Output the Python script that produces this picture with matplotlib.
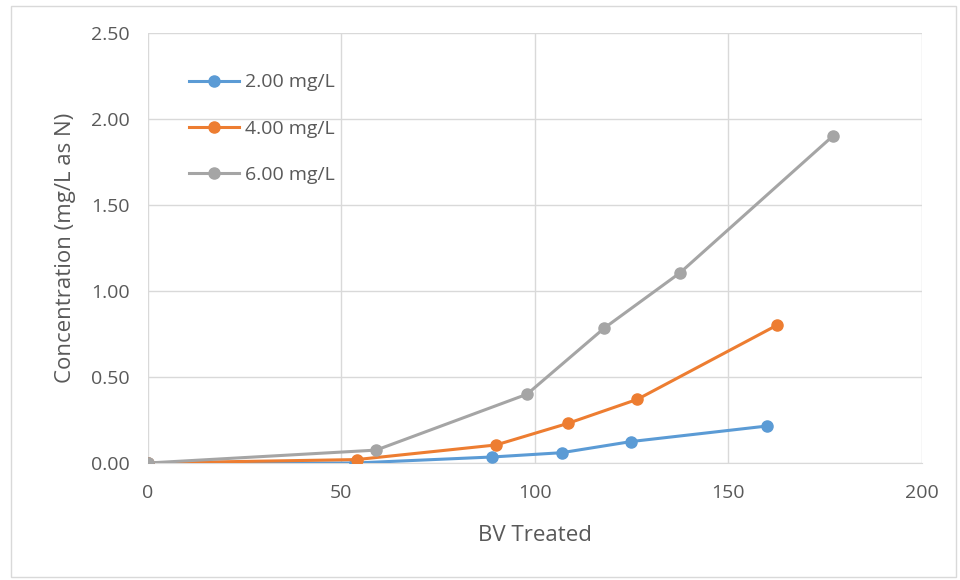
import matplotlib
matplotlib.use("Agg")
import matplotlib.pyplot as plt

plt.rcParams['font.family'] = ['Open Sans', 'DejaVu Sans']

# data
bv_2 = [0, 53.5, 89, 107, 125, 160]
conc_2 = [0.0, 0.0, 0.035, 0.06, 0.125, 0.215]

bv_4 = [0, 54, 90, 108.5, 126.5, 162.5]
conc_4 = [0.0, 0.02, 0.105, 0.23, 0.37, 0.80]

bv_6 = [0, 59, 98, 118, 137.5, 177]
conc_6 = [0.0, 0.075, 0.40, 0.785, 1.105, 1.90]

labels = ['2.00 mg/L', '4.00 mg/L', '6.00 mg/L']
colors = ['#5B9BD5', '#ED7D31', '#A5A5A5']

fig = plt.figure(figsize=(9.6, 5.8), dpi=100)
ax = fig.add_axes([0.154, 0.2017, 0.806, 0.7413])

for xs, ys, lab, c in zip([bv_2, bv_4, bv_6], [conc_2, conc_4, conc_6], labels, colors):
    ax.plot(xs, ys, color=c, lw=2.2, marker='o', ms=8, label=lab, zorder=3)

ax.set_xlim(0, 200)
ax.set_ylim(0, 2.5)
ax.set_xticks([0, 50, 100, 150, 200])
ax.set_yticks([0, 0.5, 1.0, 1.5, 2.0, 2.5])
ax.set_yticklabels(['0.00', '0.50', '1.00', '1.50', '2.00', '2.50'])
ax.grid(True, color='#D9D9D9', lw=1)
ax.set_axisbelow(True)
for s in ['top', 'right', 'left']:
    ax.spines[s].set_visible(False)
ax.spines['bottom'].set_color('#D9D9D9')
ax.tick_params(length=0, labelsize=14, colors='#595959')
ax.tick_params(axis='x', pad=15)
ax.tick_params(axis='y', pad=13)

ax.set_xlabel('BV Treated', fontsize=16, color='#595959', labelpad=17)
ax.set_ylabel('Concentration (mg/L as N)', fontsize=16, color='#595959', labelpad=11)

leg = ax.legend(loc='upper left', bbox_to_anchor=(0.03, 0.947), frameon=False,
                fontsize=14, labelspacing=1.45, handlelength=2.6, handletextpad=0.3)
for t in leg.get_texts():
    t.set_color('#595959')

# outer chart border
fig.patches.append(plt.Rectangle((0.011, 0.005), 0.985, 0.985, transform=fig.transFigure,
                                 fill=False, edgecolor='#D9D9D9', lw=1))

fig.savefig('out.png', dpi=100)
